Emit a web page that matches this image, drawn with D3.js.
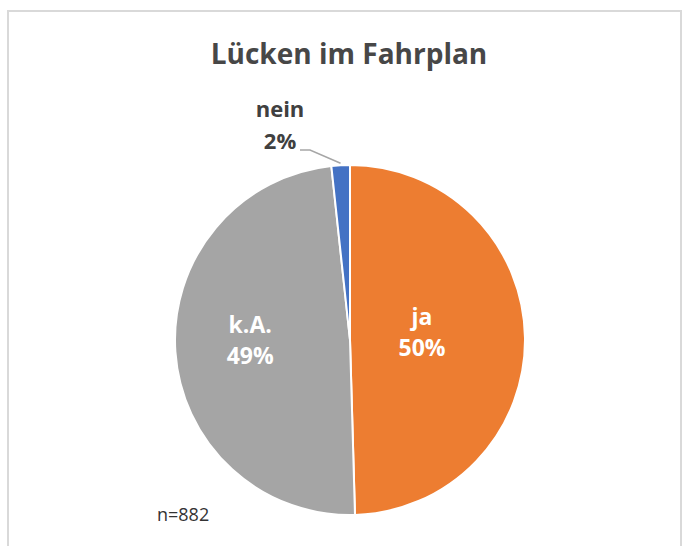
<!DOCTYPE html>
<html>
<head>
<meta charset="utf-8">
<script src="https://cdn.jsdelivr.net/npm/d3@7/dist/d3.min.js"></script>
<style>
  html, body { margin: 0; padding: 0; background: #fff; }
  svg { display: block; }
  text { font-family: "Open Sans", Lato, sans-serif; }
</style>
</head>
<body>
<svg id="chart" width="686" height="546"></svg>
<script>
// Lücken im Fahrplan, n=882
var categories = ["ja", "k.A.", "nein"];
var counts = [437, 430, 15];
var percentLabels = ["50%", "49%", "2%"];
var colors = ["#ED7D31", "#A5A5A5", "#4472C4"];
var title = "Lücken im Fahrplan";
var note = "n=882";

var svg = d3.select("#chart"),
  width = 686,
  height = 546,
  cx = 350,
  cy = 340,
  radius = 175;

// chart frame
svg.append("rect")
  .attr("x", 8)
  .attr("y", 11)
  .attr("width", 673)
  .attr("height", 560)
  .attr("fill", "#fff")
  .attr("stroke", "#d9d9d9")
  .attr("stroke-width", 2);

svg.append("text")
  .attr("x", 349)
  .attr("y", 64)
  .attr("text-anchor", "middle")
  .attr("fill", "#474747")
  .attr("font-size", 28)
  .attr("font-weight", 700)
  .text(title);

var data = categories.map(function(c, i) {
  return { name: c, value: counts[i], pct: percentLabels[i], color: colors[i] };
});

var pie = d3.pie()
  .sort(null)
  .value(function(d) { return d.value; });

var arc = d3.arc()
  .innerRadius(0)
  .outerRadius(radius);

var arcs = pie(data);

var g = svg.append("g")
  .attr("transform", "translate(" + cx + "," + cy + ")");

g.selectAll("path.slice")
  .data(arcs)
  .enter()
  .append("path")
  .attr("class", "slice")
  .attr("d", arc)
  .attr("fill", function(d) { return d.data.color; })
  .attr("stroke", "#fff")
  .attr("stroke-width", 2);

// inside labels for the two big slices
var labelRadius = { "ja": 72, "k.A.": 100 };
var inside = g.selectAll("g.inlabel")
  .data(arcs.filter(function(d) { return labelRadius[d.data.name]; }))
  .enter()
  .append("g")
  .attr("class", "inlabel")
  .attr("transform", function(d) {
    var a = (d.startAngle + d.endAngle) / 2,
      r = labelRadius[d.data.name];
    return "translate(" + (Math.sin(a) * r) + "," + (-Math.cos(a) * r) + ")";
  });

inside.append("text")
  .attr("text-anchor", "middle")
  .attr("y", -14)
  .attr("fill", "#fff")
  .attr("font-size", 23)
  .attr("font-weight", 700)
  .text(function(d) { return d.data.name; });

inside.append("text")
  .attr("text-anchor", "middle")
  .attr("y", 17)
  .attr("fill", "#fff")
  .attr("font-size", 23)
  .attr("font-weight", 700)
  .text(function(d) { return d.data.pct; });

// outside label with leader line for the small slice
var small = arcs[2],
  midA = (small.startAngle + small.endAngle) / 2,
  edge = [Math.sin(midA) * (radius + 2), -Math.cos(midA) * (radius + 2)],
  lx = -70,
  ly = -190;

g.append("polyline")
  .attr("points", [[lx + 20, ly], [lx + 30, ly], edge].map(function(p) { return p.join(","); }).join(" "))
  .attr("fill", "none")
  .attr("stroke", "#a6a6a6")
  .attr("stroke-width", 1.5);

g.append("text")
  .attr("x", lx)
  .attr("y", -223)
  .attr("text-anchor", "middle")
  .attr("fill", "#404040")
  .attr("font-size", 22)
  .attr("font-weight", 700)
  .text(small.data.name);

g.append("text")
  .attr("x", lx)
  .attr("y", -191)
  .attr("text-anchor", "middle")
  .attr("fill", "#404040")
  .attr("font-size", 22)
  .attr("font-weight", 700)
  .text(small.data.pct);

svg.append("text")
  .attr("x", 157)
  .attr("y", 521)
  .attr("fill", "#333")
  .attr("font-size", 18)
  .text(note);
</script>
</body>
</html>
